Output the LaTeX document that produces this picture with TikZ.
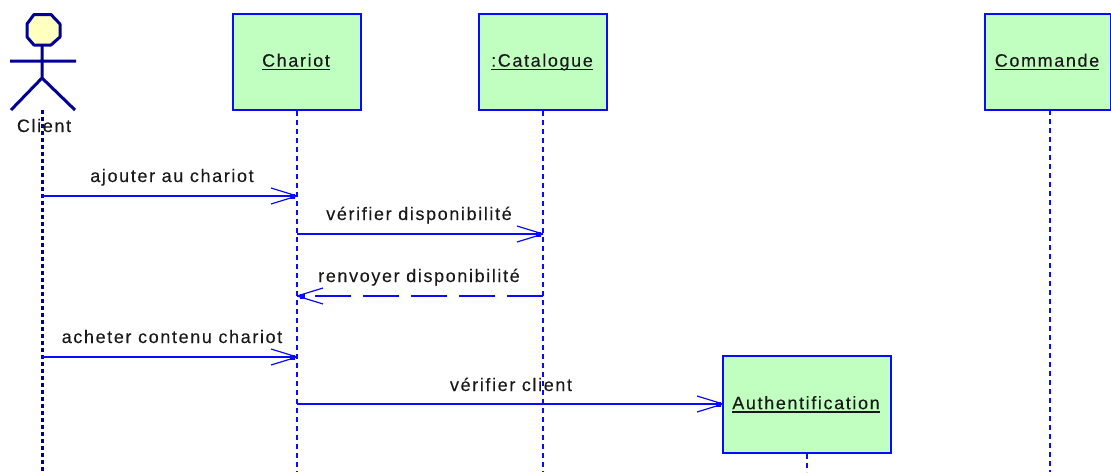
\documentclass[tikz,border=0pt]{standalone}
\usepackage{fontspec}
\setmainfont[LetterSpace=9,FakeBold=0.15]{Liberation Sans}
\definecolor{bl}{RGB}{10,10,255}
\definecolor{nv}{RGB}{0,0,150}
\definecolor{gr}{RGB}{192,255,192}
\definecolor{yl}{RGB}{255,255,192}
\definecolor{tx}{RGB}{25,25,25}
\newsavebox{\ulbox}
\newcommand{\ulin}[1]{\sbox{\ulbox}{#1}\leavevmode\hspace*{-2pt}\rlap{\vrule width \wd\ulbox height -2.2pt depth 3.7pt}\usebox{\ulbox}}
\tikzset{x=1pt,y=-1pt,
 objbox/.style={draw=bl,line width=2pt,fill=gr,minimum width=128pt,minimum height=96pt,inner sep=0pt,text=tx,font=\fontsize{18}{20}\selectfont},
 life/.style={draw=bl,line width=1.3pt,dash pattern=on 5pt off 4pt},
 msg/.style={draw=bl,line width=1.4pt},
 reply/.style={draw=bl,line width=1.4pt,dash pattern=on 36pt off 12pt},
 hd/.style={draw=bl,line width=1.2pt},
 lab/.style={text=tx,font=\fontsize{18}{20}\selectfont,inner sep=0pt,anchor=base}}
\newcommand{\openhead}[3]{% tip x, y, direction
 \draw[hd] (#1,#2) -- ++({#3*-26},-8);
 \draw[hd] (#1,#2) -- ++({#3*-26},8);
 \fill[bl] ({#1-#3*5-2.5},{#2-2.5}) rectangle ++(5,5);}
\begin{document}
\begin{tikzpicture}
\useasboundingbox (0,0) rectangle (1111,472);
% lifelines
\node[objbox] (chariot) at (297,62) {\ulin{Chariot}};
\node[objbox] (catalogue) at (543,62) {\ulin{:Catalogue}};
\node[objbox,minimum width=126pt] (commande) at (1048,62) {\ulin{Commande}};
\coordinate (chB) at (297,472);
\coordinate (caB) at (543,472);
\coordinate (coB) at (1050,472);
\coordinate (coT) at (1050,110);
\coordinate (auB) at (807,472);
\coordinate (clT) at (42,110);
\coordinate (clB) at (42,472);
\draw[life] (chariot.south) -- (chB);
\draw[life] (catalogue.south) -- (caB);
\draw[life] (coT) -- (coB);
\draw[nv,line width=3pt,dash pattern=on 4pt off 3pt] (clT) -- (clB);
% actor
\draw[nv,line width=3pt,fill=yl,line join=round]
 (34,14.5) -- (51,14.5) -- (60,24) -- (60,37) -- (51,45) -- (34,45) -- (27,37) -- (27,24) -- cycle;
\draw[nv,line width=3pt] (42,45) -- (42,78) (10,61) -- (76,61) (11,110) -- (42,78) -- (75,110);
\node[lab] (client) at (44,132) {Client};
% Authentification
\node[objbox,minimum width=168pt,minimum height=97pt] (auth) at (807,404.5) {\raisebox{1.5pt}{\ulin{Authentification}}};
\draw[life] (auth.south) -- (auB);
% messages
\coordinate (a1) at (42,196); \coordinate (a2) at (297,196);
\coordinate (b1) at (297,234); \coordinate (b2) at (543,234);
\coordinate (c1) at (543,296); \coordinate (c2) at (297,296);
\coordinate (d1) at (42,357); \coordinate (d2) at (297,357);
\coordinate (e1) at (297,404); \coordinate (e2) at (723,404);
\draw[msg] (a1) -- (a2); \openhead{297}{196}{1}
\draw[msg] (b1) -- (b2); \openhead{543}{234}{1}
\draw[reply] (c1) -- (c2); \openhead{297}{296}{-1}
\draw[msg] (d1) -- (d2); \openhead{297}{357}{1}
\draw[msg] (e1) -- (e2); \openhead{723}{404}{1}
\node[lab] (m1) at (172,182) {ajouter au chariot};
\node[lab] (m2) at (419,220) {vérifier disponibilité};
\node[lab] (m3) at (419,282) {renvoyer disponibilité};
\node[lab] (m4) at (172,343) {acheter contenu chariot};
\node[lab] (m5) at (511,391) {vérifier client};
\end{tikzpicture}
\end{document}
